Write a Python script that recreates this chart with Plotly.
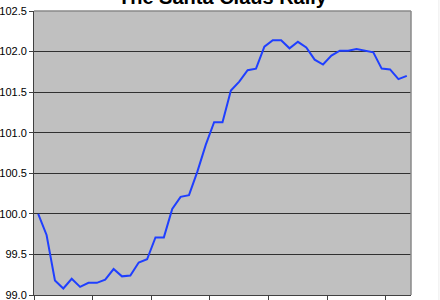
import plotly.graph_objects as go

title = "The Santa Claus Rally"
day = list(range(1, 46))
value = [100.00, 99.74, 99.18, 99.08, 99.20, 99.10, 99.15, 99.15, 99.19, 99.32,
         99.23, 99.24, 99.40, 99.44, 99.71, 99.71, 100.06, 100.21, 100.23, 100.52,
         100.85, 101.13, 101.13, 101.52, 101.63, 101.77, 101.79, 102.06, 102.14, 102.14,
         102.04, 102.12, 102.05, 101.90, 101.84, 101.95, 102.01, 102.01, 102.03, 102.01,
         101.99, 101.79, 101.78, 101.66, 101.70]
y_ticks = [99.0, 99.5, 100.0, 100.5, 101.0, 101.5, 102.0, 102.5]
x_tick_every = 7

font = "Arial, Liberation Sans, sans-serif"

fig = go.Figure()
fig.add_trace(go.Scatter(x=day, y=value, mode="lines",
                         line=dict(color="#1f3fff", width=2), hoverinfo="skip"))

fig.update_layout(
    width=440, height=300,
    margin=dict(l=34, r=29, t=11, b=5, autoexpand=False),
    paper_bgcolor="white", plot_bgcolor="#c0c0c0",
    showlegend=False,
    font=dict(family=font, size=11, color="black"),
    xaxis=dict(range=[0.5, len(day) + 0.5], automargin=False,
               tickvals=[0.5 + k for k in range(0, len(day), x_tick_every)],
               showticklabels=False, ticks="outside", ticklen=4, tickcolor="#404040",
               showgrid=False, zeroline=False, showline=True, linecolor="#404040",
               linewidth=1),
    yaxis=dict(range=[y_ticks[0], y_ticks[-1]], tickvals=y_ticks, automargin=False,
               ticktext=[f"{v:.1f}" for v in y_ticks], ticklabeloverflow="allow",
               ticks="outside", ticklen=4, tickcolor="#404040",
               showgrid=True, gridcolor="#303030", gridwidth=1,
               zeroline=False, showline=True, linecolor="#404040", linewidth=1),
    annotations=[dict(text="<b>" + title + "</b>", x=0.5, y=1.003,
                      xref="paper", yref="paper", xanchor="center", yanchor="bottom",
                      showarrow=False, font=dict(size=20, family=font, color="black"))],
    shapes=[
        dict(type="line", xref="paper", yref="paper", x0=0, x1=1, y0=1, y1=1,
             line=dict(color="#8a8a8a", width=1.5), layer="above"),
        dict(type="line", xref="paper", yref="paper", x0=1, x1=1, y0=0, y1=1,
             line=dict(color="#8a8a8a", width=1.5), layer="above"),
        dict(type="line", xref="paper", yref="paper", x0=1.074, x1=1.074, y0=-0.1, y1=1.1,
             line=dict(color="#ececec", width=1), layer="below"),
    ],
)

fig.write_html("out.html")
